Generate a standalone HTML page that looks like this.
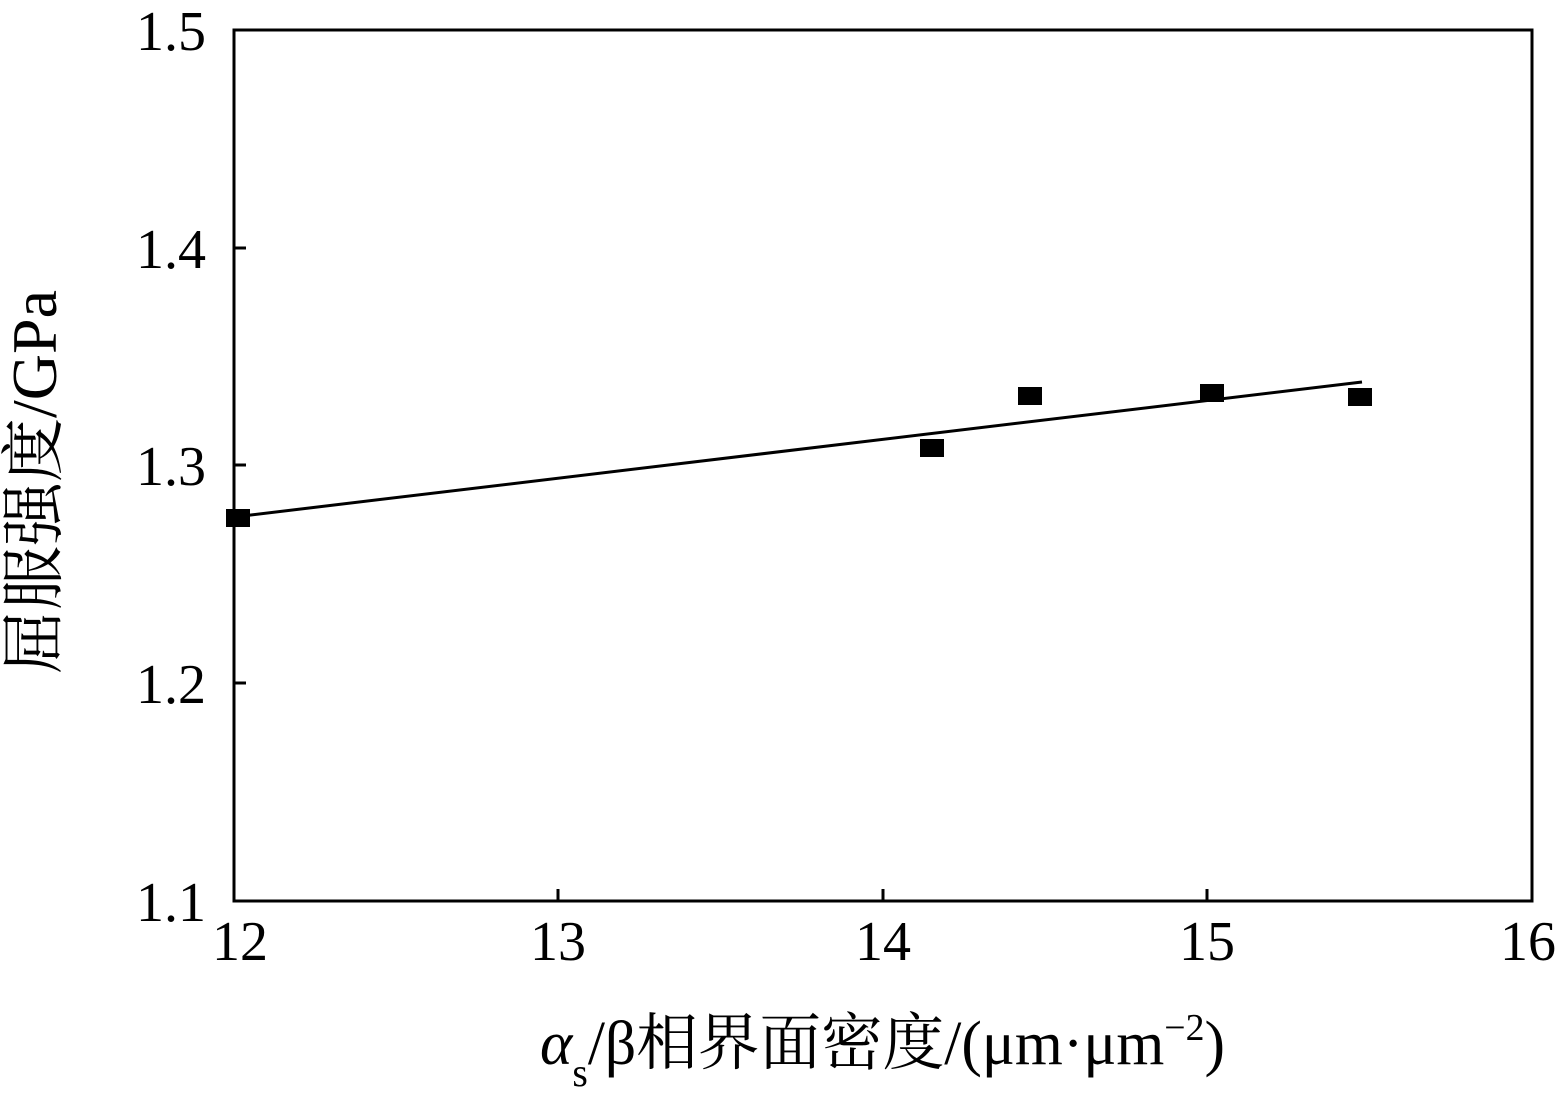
<!DOCTYPE html>
<html><head><meta charset="utf-8"><style>
html,body{margin:0;padding:0;background:#fff}
svg text{font-family:"Liberation Serif","Noto Serif CJK SC",serif;fill:#000}
</style></head><body>
<svg width="1564" height="1103" viewBox="0 0 1564 1103" xmlns="http://www.w3.org/2000/svg">
<rect x="234" y="30" width="1298" height="871" fill="none" stroke="#000" stroke-width="3"/>
<g stroke="#000" stroke-width="3">
<line x1="558" y1="901" x2="558" y2="889"/>
<line x1="883" y1="901" x2="883" y2="889"/>
<line x1="1207" y1="901" x2="1207" y2="889"/>
<line x1="234" y1="248" x2="246" y2="248"/>
<line x1="234" y1="465" x2="246" y2="465"/>
<line x1="234" y1="683" x2="246" y2="683"/>
</g>
<g font-size="56" text-anchor="end">
<text x="206" y="50">1.5</text>
<text x="206" y="268">1.4</text>
<text x="206" y="485">1.3</text>
<text x="206" y="703">1.2</text>
<text x="206" y="921">1.1</text>
</g>
<g font-size="56" text-anchor="middle">
<text x="240" y="960">12</text>
<text x="558" y="960">13</text>
<text x="883" y="960">14</text>
<text x="1207" y="960">15</text>
<text x="1528" y="960">16</text>
</g>
<polyline points="234,517 1362,382" fill="none" stroke="#000" stroke-width="3"/>
<g fill="#000">
<rect x="226" y="509" width="24" height="18"/>
<rect x="920" y="439" width="24" height="18"/>
<rect x="1018" y="387" width="24" height="18"/>
<rect x="1200" y="384" width="24" height="18"/>
<rect x="1348" y="388" width="24" height="18"/>
</g>
<text transform="translate(56,482) rotate(-90)" font-size="64" text-anchor="middle">屈服强度/GPa</text>
<text x="540" y="1064" font-size="62" textLength="685" lengthAdjust="spacingAndGlyphs"><tspan font-style="italic">α</tspan><tspan font-size="40" dy="22">s</tspan><tspan dy="-22">/β相界面密度/(μm·μm</tspan><tspan font-size="38" dy="-24">−2</tspan><tspan dy="24">)</tspan></text>
</svg>
</body></html>
